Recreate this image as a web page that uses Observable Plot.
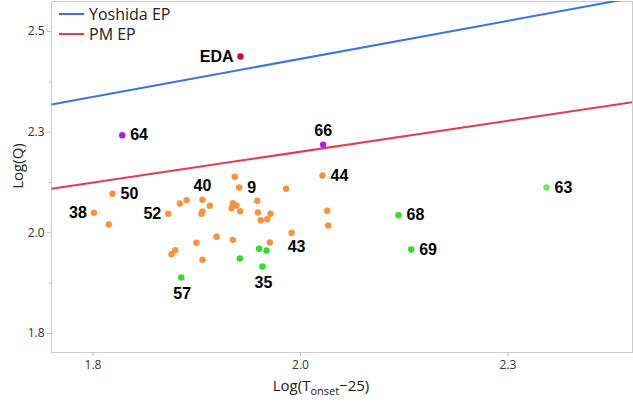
<!DOCTYPE html>
<html><head><meta charset="utf-8">
<script src="https://cdn.jsdelivr.net/npm/d3@7"></script>
<script src="https://cdn.jsdelivr.net/npm/@observablehq/plot@0.6"></script>
<style>
body{margin:0;background:#fff;}
#wrap{position:relative;width:633px;height:403px;}
</style></head><body><div id="wrap"></div>
<script>
// ---- data ----
const pointX = [1.9777,1.8352,2.0773,2.0765,2.3464,2.0822,2.0834,2.1681,2.1834,
  1.8235,1.8010,1.8190,1.8906,1.9046,1.9127,1.9319,1.9407,1.9319,1.9307,1.9709,1.9761,1.9685,1.9729,1.9669,1.9773,1.9978,1.9986,2.0022,2.0099,2.0139,2.0327,2.0392,1.9488,1.9247,1.9685,2.0130,1.8990,1.8946,1.9319,
  2.0002,2.0090,1.9769,2.0042,1.9063];
const pointY = [2.4879,2.2924,2.2686,2.1923,2.1626,2.1047,2.0682,2.0938,2.0086,
  2.1469,2.0997,2.0707,2.0972,2.1228,2.1310,2.1320,2.1171,2.1030,2.0972,2.1891,2.1626,2.1236,2.1179,2.1112,2.1037,2.1295,2.1005,2.0814,2.0839,2.0972,2.1593,2.0500,2.0401,2.0252,2.0326,2.0260,2.0069,1.9969,1.9830,
  2.0103,2.0061,1.9862,1.9664,1.9391];
const pointGroup = ["eda","purple","purple","orange","lightgreen","orange","orange","green","green",
  "orange","orange","orange","orange","orange","orange","orange","orange","orange","orange","orange","orange","orange","orange","orange","orange","orange","orange","orange","orange","orange","orange","orange","orange","orange","orange","orange","orange","orange","orange",
  "green","green","green","green","green"];
const pointLabel = ["EDA","64","66","44","63","","","68","69",
  "50","38","","52","","","40","","","","","9","","","","","","","","","","","43","","","","","","","",
  "","","","35","57"];
const labelPlace = ["left","right","above","right","right","","","right","right",
  "right","left","","left","","","above","","","","","right","","","","","","","","","","","belowright","","","","","","","",
  "","","","below","below"];

const lineNames = ["Yoshida EP","PM EP"];
const lineX0 = [1.75,1.75], lineY0 = [2.3687,2.1593];
const lineX1 = [2.45,2.45], lineY1 = [2.6333,2.3744];

const xTickValues = [1.8,2.05,2.3], xTickLabels = ["1.8","2.0","2.3"];
const yTickValues = [1.8,2.05,2.3,2.55], yTickLabels = ["1.8","2.0","2.3","2.5"];
const yMinorTicks = [1.925,2.175,2.425];

// ---- build ----
const colors = {eda:"#c8102e", purple:"#a21ff0", orange:"#f7923f", green:"#2fdc2f", lightgreen:"#6fea6f"};
const lineColors = ["#3d72e6","#e63a4e"];
const points = pointX.map((x,i)=>({x, y:pointY[i], g:pointGroup[i], label:pointLabel[i], place:labelPlace[i]}));
const lines = lineNames.map((n,i)=>({n, x0:lineX0[i], y0:lineY0[i], x1:lineX1[i], y1:lineY1[i], c:lineColors[i]}));
const placeOff = {right:{dx:8,dy:0,a:"start"}, left:{dx:-7,dy:0,a:"end"}, above:{dx:0,dy:-14,a:"middle"}, below:{dx:1,dy:16,a:"middle"}, belowright:{dx:5,dy:14,a:"middle"}};
const labelMarks = Object.entries(placeOff).map(([k,o]) => Plot.text(points.filter(d=>d.place===k), {
  x:"x", y:"y", text:"label", dx:o.dx, dy:o.dy, textAnchor:o.a, fontSize:16, fontWeight:"bold",
  fontFamily:"Liberation Sans, Arial, sans-serif", fill:"#000"}));

const plot = Plot.plot({
  width:633, height:403, marginLeft:51, marginRight:1, marginTop:1, marginBottom:51,
  x:{domain:[1.75,2.45]}, y:{domain:[1.7528,2.6245]},
  style:{fontFamily:"Open Sans, sans-serif", background:"#fff", overflow:"visible"},
  marks:[
    Plot.axisX({ticks:xTickValues, tickFormat:d=>xTickLabels[xTickValues.indexOf(d)], tickSize:4, tickPadding:4, fontSize:12, stroke:"#bbb", fill:"#333", label:null}),
    Plot.axisY({ticks:yTickValues, tickFormat:d=>yTickLabels[yTickValues.indexOf(d)], tickSize:4, tickPadding:3, fontSize:12, stroke:"#bbb", fill:"#333", label:null}),
    Plot.axisY({ticks:yMinorTicks, tickFormat:()=>"", tickSize:2, stroke:"#bbb", label:null}),
    Plot.frame({stroke:"#cccccc"}),
    Plot.link(lines, {x1:"x0", y1:"y0", x2:"x1", y2:"y1", stroke:"c", strokeWidth:2, clip:true}),
    Plot.dot(points, {x:"x", y:"y", r:3.2, fill:d=>colors[d.g], stroke:null}),
    ...labelMarks
  ]
});
document.getElementById("wrap").appendChild(plot);

// axis titles & legend
const svg = d3.select(plot);
const xl = svg.append("text").attr("x",321).attr("y",391).attr("text-anchor","middle")
  .attr("font-family","Open Sans, sans-serif").attr("font-size",15).attr("fill","#222");
xl.append("tspan").text("Log(T");
xl.append("tspan").attr("font-size",11).attr("dy",4).text("onset");
xl.append("tspan").attr("dy",-4).text("\u221225)");
svg.append("text").attr("transform","translate(23,166) rotate(-90)").attr("text-anchor","middle")
  .attr("font-family","Open Sans, sans-serif").attr("font-size",15).attr("fill","#222").text("Log(Q)");
lines.forEach((l,i)=>{
  const y = 14 + i*20;
  svg.append("line").attr("x1",59).attr("x2",84).attr("y1",y).attr("y2",y).attr("stroke",l.c).attr("stroke-width",2);
  svg.append("text").attr("x",89).attr("y",y).attr("dy","0.35em").attr("text-anchor","start").attr("font-family","Open Sans, sans-serif")
    .attr("font-size",16).attr("fill","#222").text(l.n);
});
</script></body></html>
